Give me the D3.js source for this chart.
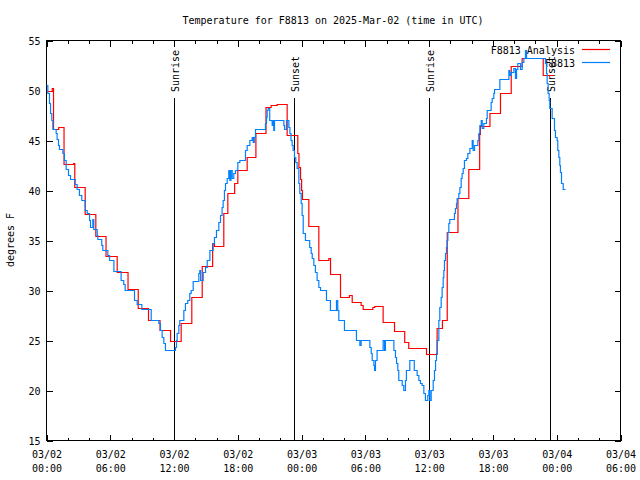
<!DOCTYPE html>
<html>
<head>
<meta charset="utf-8">
<script src="https://cdn.jsdelivr.net/npm/d3@7"></script>
<style>
  html, body { margin: 0; padding: 0; background: #fff; }
  svg { display: block; }
  text { font-family: "DejaVu Sans Mono", "Liberation Mono", monospace; font-size: 10px; fill: #000; }
</style>
</head>
<body>
<svg id="chart" width="640" height="480"></svg>
<script>
// ---------------- DATA (hours since 2025-03-02 00:00 UTC) ----------------
const titleText = "Temperature for F8813 on 2025-Mar-02 (time in UTC)";
const yLabel = "degrees F";
const seriesNames = ["F8813 Analysis", "F8813"];
const seriesColors = ["#ff0000", "#0080ff"];

const analysisHours = [0, 0.54, 0.66, 1.15, 1.65, 2.55, 2.66, 3.64, 4.64, 5.6, 6.65, 7.67, 8.63, 9.6,
  10.68, 11.67, 12.67, 13.67, 14.65, 15.63, 15.8, 16.68, 17.06, 17.7, 18.0, 18.88, 19.7, 20.65, 21.13,
  21.7, 22.64, 23.64, 23.75, 23.9, 24.0, 24.08, 24.68, 25.62, 26.56, 26.72, 27.66, 28.5, 28.76, 29.6,
  29.79, 30.7, 30.88, 31.67, 32.74, 33.7, 34.08, 35.75, 36.75, 37.25, 37.7, 38.71, 39.73, 40.75, 40.82,
  41.72, 42.71, 43.72, 44.75, 46.73, 47.72];
const analysisTemps = [49.9, 50.2, 46.1, 46.3, 42.6, 42.7, 40.3, 37.6, 35.4, 33.4, 31.8, 30.1, 28.2, 27.0,
  26.0, 24.9, 26.7, 29.3, 32.4, 34.7, 34.4, 37.7, 39.7, 40.7, 42.0, 43.3, 45.7, 48.3, 48.5,
  48.6, 45.5, 43.7, 42.3, 41.1, 40.0, 39.1, 36.4, 33.0, 33.2, 31.6, 29.3, 29.5, 28.8, 28.5,
  28.1, 28.3, 28.4, 26.8, 25.9, 24.8, 24.2, 23.6, 26.2, 27.0, 35.8, 39.2, 42.1, 45.6, 46.4,
  47.7, 49.7, 52.4, 53.2, 51.5, 51.5];

const obsHours = [0, 0.125, 0.28, 0.38, 0.5, 0.6, 0.91, 1.0, 1.13, 1.22, 1.54, 1.69, 1.85, 2.07, 2.26,
  2.7, 2.88, 3.1, 3.32, 3.64, 3.83, 4.05, 4.14, 4.36, 4.45, 4.77, 4.83, 5.2, 5.3, 5.77, 5.93, 6.34,
  7.02, 7.27, 7.4, 8.28, 8.53, 8.97, 9.85, 10.57, 10.72, 10.88, 11.04, 11.19, 12.13, 12.23, 12.29,
  12.45, 12.54, 12.92, 13.07, 13.29, 13.48, 13.61, 13.8, 14.33, 14.42, 14.5, 14.74, 14.96, 15.12,
  15.37, 15.68, 15.8, 15.99, 16.21, 16.37, 16.52, 16.62, 16.74, 16.84, 17.0, 17.15, 17.25, 17.35,
  17.47, 17.62, 17.78, 18.0, 18.19, 18.72, 18.88, 19.13, 19.35, 19.45, 19.55, 19.66, 20.6, 20.7,
  20.76, 20.85, 21.0, 21.23, 21.32, 21.38, 21.45, 22.33, 22.4, 22.58, 22.8, 22.9, 23.0, 23.11, 23.2,
  23.33, 23.45, 23.58, 23.74, 23.83, 23.96, 24.05, 24.15, 24.36, 24.76, 24.9, 25.0, 25.15, 25.3,
  25.46, 25.62, 25.78, 26.34, 26.71, 27.28, 27.4, 27.5, 28.03, 29.16, 29.48, 29.6, 30.42, 30.55,
  30.64, 30.8, 30.86, 30.95, 31.1, 31.67, 31.8, 31.88, 32.68, 32.83, 32.93, 33.05, 33.14, 33.46,
  33.61, 33.77, 33.86, 34.18, 34.6, 34.87, 35.03, 35.18, 35.34, 35.5, 35.65, 35.87, 35.97, 36.06,
  36.19, 36.38, 36.5, 36.6, 36.69, 36.75, 36.91, 37.0, 37.13, 37.22, 37.32, 37.38, 37.44, 37.54,
  37.63, 37.69, 37.76, 37.85, 37.94, 38.38, 38.47, 38.57, 38.63, 38.79, 38.89, 39.01, 39.1, 39.2,
  39.32, 39.51, 39.64, 39.83, 40.05, 40.14, 40.27, 40.58, 40.67, 40.77, 40.9, 40.99, 41.14, 41.39,
  41.46, 41.83, 41.93, 42.08, 42.15, 42.65, 43.5, 43.59, 43.72, 43.97, 44.12, 44.22, 44.34, 44.59,
  44.75, 44.91, 45.06, 45.16, 46.94, 47.04, 47.1, 47.19, 47.29, 47.35, 47.57, 47.79, 47.88, 48.04,
  48.1, 48.2, 48.29, 48.35, 48.45, 48.61, 48.83];
const obsTemps = [50.5, 49.7, 48.7, 47.7, 47.0, 46.1, 45.7, 45.1, 44.5, 44.1, 43.7, 43.0, 42.1, 41.5, 41.1,
  40.6, 40.1, 39.5, 39.0, 38.0, 37.7, 37.0, 36.3, 37.1, 36.1, 35.5, 35.1, 34.5, 34.0, 33.5, 33.0, 31.9,
  31.0, 30.6, 30.0, 29.0, 28.6, 28.1, 27.0, 26.7, 26.0, 25.3, 24.7, 24.0, 24.3, 25.0, 25.7,
  26.5, 27.0, 28.0, 28.7, 29.0, 29.7, 30.0, 30.9, 31.7, 32.0, 31.0, 31.8, 32.3, 33.0,
  34.0, 34.7, 35.3, 36.0, 36.8, 37.5, 38.3, 39.0, 40.0, 40.7, 41.2, 42.0, 41.0, 42.0,
  41.2, 41.7, 42.0, 42.8, 43.0, 44.0, 44.5, 45.0, 45.3, 44.8, 45.3, 46.1, 46.7, 47.3,
  48.0, 48.2, 47.0, 46.5, 47.0, 46.0, 47.0, 46.5, 46.1, 47.0, 46.3, 45.7, 45.0, 44.5, 44.0,
  43.3, 42.8, 42.2, 40.7, 39.7, 38.7, 37.5, 35.7, 35.0, 34.3, 33.7, 33.2, 32.5, 31.8,
  31.0, 30.3, 30.0, 29.0, 28.0, 29.0, 28.0, 27.0, 26.0, 25.0, 24.5, 25.0, 24.3, 23.7,
  23.0, 22.5, 22.0, 23.0, 24.0, 25.0, 24.0, 25.0, 24.0, 23.3, 22.7, 22.0, 21.0, 20.5,
  20.0, 21.0, 22.0, 23.0, 22.0, 21.5, 21.0, 20.7, 20.5, 19.7, 19.0, 19.5, 20.0, 19.0,
  20.0, 21.0, 22.0, 23.0, 23.7, 25.0, 27.0, 28.3, 29.3, 30.3, 31.3, 32.0, 33.0, 33.7,
  34.3, 35.0, 35.8, 36.7, 37.1, 37.7, 38.2, 38.7, 39.2, 39.7, 40.3, 41.2, 41.7, 42.2,
  43.0, 43.2, 43.7, 44.2, 45.0, 44.0, 44.5, 45.0, 45.7, 46.5, 47.0, 46.2, 46.7, 47.2,
  48.0, 48.8, 49.2, 49.7, 50.1, 51.1, 52.0, 51.5, 51.8, 52.2, 51.2, 52.1, 52.7, 52.1,
  52.8, 53.2, 54.0, 53.2, 52.7, 51.7, 50.7, 49.7, 49.0, 48.2, 47.2, 46.0, 45.3, 45.0,
  44.0, 43.3, 42.5, 41.8, 40.7, 40.1, 40.1];

const sunHours = [11.97, 23.26, 35.97, 47.35];
const sunLabels = ["Sunrise", "Sunset", "Sunrise", "Sunset"];
const yTicks = [15, 20, 25, 30, 35, 40, 45, 50, 55];

// ---------------- CHART ----------------
const t0 = Date.UTC(2025, 2, 2, 0, 0);
const toDate = h => new Date(t0 + h * 3600e3);
const L = 46, R = 620, TOP = 40, B = 440;

const svg = d3.select("#chart");
const x = d3.scaleUtc().domain([toDate(0), toDate(54)]).range([L + 0.5, R + 0.5]);
const y = d3.scaleLinear().domain([15, 55]).range([B + 0.5, TOP + 0.5]);

// title
svg.append("text").attr("x", 333).attr("y", 24).attr("text-anchor", "middle").text(titleText);
// y label
svg.append("text").attr("transform", "translate(10,240) rotate(-90)")
  .attr("text-anchor", "middle").attr("dy", "0.35em").text(yLabel);

const crisp = g => g.attr("shape-rendering", "crispEdges");

// axes (ticks inward)
const majorX = d3.utcHour.every(6).range(toDate(0), toDate(54.01));
const minorX = d3.utcHour.every(2).range(toDate(0), toDate(54.01));
const fmtD = d3.utcFormat("%m/%d"), fmtH = d3.utcFormat("%H:%M");

const gxMinor = svg.append("g").attr("transform", `translate(0,${B + 0.5})`)
  .call(d3.axisBottom(x).tickValues(minorX).tickSize(-3).tickFormat(""));
const gxMinorT = svg.append("g").attr("transform", `translate(0,${TOP + 0.5})`)
  .call(d3.axisTop(x).tickValues(minorX).tickSize(-3).tickFormat(""));
const gx = svg.append("g").attr("transform", `translate(0,${B + 0.5})`)
  .call(d3.axisBottom(x).tickValues(majorX).tickSize(-6).tickPadding(13).tickFormat(d => fmtD(d)));
const gxT = svg.append("g").attr("transform", `translate(0,${TOP + 0.5})`)
  .call(d3.axisTop(x).tickValues(majorX).tickSize(-6).tickFormat(""));
const gy = svg.append("g").attr("transform", `translate(${L + 0.5},0)`)
  .call(d3.axisLeft(y).tickValues(yTicks).tickSize(-6).tickPadding(6).tickFormat(d3.format("d")));
const gyR = svg.append("g").attr("transform", `translate(${R + 0.5},0)`)
  .call(d3.axisRight(y).tickValues(yTicks).tickSize(-6).tickFormat(""));

[gxMinor, gxMinorT, gx, gxT, gy, gyR].forEach(g => {
  g.select(".domain").remove();
  g.selectAll("line").attr("stroke", "#000").call(crisp);
  g.attr("font-family", null).attr("font-size", null);
});
gx.selectAll(".tick text").each(function(d) {
  const t = d3.select(this);
  t.text(null).attr("y", null).attr("dy", null);
  t.append("tspan").attr("x", 0).attr("y", 17).text(fmtD(d));
  t.append("tspan").attr("x", 0).attr("y", 31).text(fmtH(d));
});
gy.selectAll(".tick text").attr("dy", "0.35em");

// border
svg.append("rect").attr("x", L + 0.5).attr("y", TOP + 0.5).attr("width", R - L).attr("height", B - TOP)
  .attr("fill", "none").attr("stroke", "#000").call(crisp);

// sunrise / sunset markers
const sun = svg.append("g");
sunHours.forEach((h, i) => {
  const xx = Math.round(x(toDate(h))) + 0.5;
  sun.append("line").attr("x1", xx).attr("x2", xx).attr("y1", 98).attr("y2", B)
    .attr("stroke", "#000").call(crisp);
  sun.append("text").attr("transform", `translate(${xx + 1},92) rotate(-90)`)
    .attr("dy", "0.35em").text(sunLabels[i]);
});

// legend
const leg = svg.append("g");
seriesNames.forEach((name, i) => {
  const yy = 50 + i * 13;
  leg.append("text").attr("x", 575).attr("y", yy).attr("dy", "0.35em")
    .attr("text-anchor", "end").text(name);
  leg.append("path").attr("d", `M582,${yy - 0.5}H610`)
    .attr("fill", "none").attr("stroke", seriesColors[i]).attr("stroke-width", 1.2);
});

// series
const line = d3.line().curve(d3.curveStepAfter)
  .x(d => x(toDate(d[0]))).y(d => y(d[1]));
const analysis = analysisHours.map((h, i) => [h, analysisTemps[i]]);
const obs = obsHours.map((h, i) => [h, obsTemps[i]]);
svg.append("path").datum(analysis).attr("d", line).attr("fill", "none")
  .attr("stroke", seriesColors[0]).attr("stroke-width", 1.2);
svg.append("path").datum(obs).attr("d", line).attr("fill", "none")
  .attr("stroke", seriesColors[1]).attr("stroke-width", 1.2);
</script>
</body>
</html>
